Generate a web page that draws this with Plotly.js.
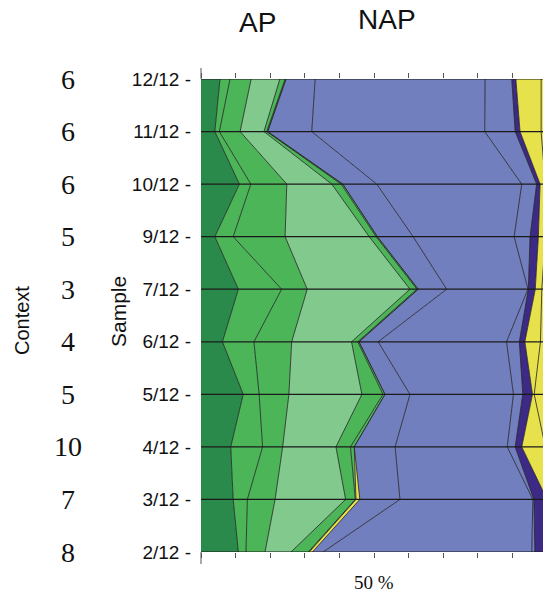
<!DOCTYPE html>
<html>
<head>
<meta charset="utf-8">
<script src="https://cdn.plot.ly/plotly-3.0.1.min.js"></script>
<style>
  html, body { margin: 0; padding: 0; background: #ffffff; }
  #chart { width: 543px; height: 593px; }
</style>
</head>
<body>
<div id="chart"></div>
<script>
// Samples from top (12/12) to bottom (2/12), with the context number of each
const samples = ["12/12", "11/12", "10/12", "9/12", "7/12", "6/12", "5/12", "4/12", "3/12", "2/12"];
const contexts = ["6", "6", "6", "5", "3", "4", "5", "10", "7", "8"];

// Pollen percentages per taxon group, one value per sample (same order as samples)
// Arboreal pollen (AP)
const apDarkGreen   = [5.5, 4.0, 11.1, 4.0, 10.8, 6.2, 12.2, 8.6, 9.3, 10.8];
const apGreenA      = [2.9, 1.3, 3.3, 5.3, 12.5, 9.1, 4.6, 9.2, 4.1, 2.2];
const apGreenB      = [6.1, 6.0, 10.4, 15.0, 7.4, 10.9, 8.6, 5.8, 8.0, 5.5];
const apLightGreen  = [8.3, 6.9, 13.0, 24.3, 29.7, 17.3, 21.1, 15.4, 20.4, 7.5];
const apGreenC      = [1.5, 0.8, 2.7, 2.0, 2.0, 1.8, 6.1, 4.2, 2.8, 5.0];
const apGreenD      = [0.3, 0.3, 0.5, 0.4, 0.4, 0.4, 0.6, 1.1, 0.2, 0.3];
const apYellow      = [0, 0, 0, 0, 0, 0, 0, 0, 1.1, 0.9];
// Non-arboreal pollen (NAP)
const napBlueA      = [8.4, 12.7, 9.8, 10.3, 8.2, 5.5, 7.2, 11.8, 11.6, 3.1];
const napBlueB      = [49.1, 50.0, 41.9, 29.2, 23.5, 37.1, 29.9, 32.4, 38.4, 60.3];
const napBlueC      = [7.7, 8.8, 4.3, 4.6, 0.1, 3.7, 2.7, 2.3, 0.3, 0.9];
const napPurple     = [1.2, 1.4, 1.0, 2.4, 2.0, 1.6, 2.8, 1.9, 3.8, 3.5];
const napYellowA    = [7.3, 6.1, 1.5, 2.0, 1.9, 4.5, 0.5, 6.8, 0, 0];
const napYellowB    = [1.7, 1.7, 0.5, 0.5, 1.5, 1.9, 3.7, 0.5, 0, 0];

const C_DARK   = "#2a8a4c";
const C_MID    = "#4cb558";
const C_LIGHT  = "#82c98e";
const C_BLUE   = "#727fbe";
const C_PURPLE = "#3d2a86";
const C_YELLOW = "#e7e24c";

const layers = [
  [apDarkGreen, C_DARK],
  [apGreenA, C_MID],
  [apGreenB, C_MID],
  [apLightGreen, C_LIGHT],
  [apGreenC, C_MID],
  [apGreenD, C_MID],
  [apYellow, C_YELLOW],
  [napBlueA, C_BLUE],
  [napBlueB, C_BLUE],
  [napBlueC, C_BLUE],
  [napPurple, C_PURPLE],
  [napYellowA, C_YELLOW],
  [napYellowB, C_YELLOW]
];

const rows = samples.map((s, i) => i);

const traces = layers.map(([vals, col]) => ({
  type: "scatter",
  mode: "lines",
  orientation: "h",
  stackgroup: "pollen",
  x: vals,
  y: rows,
  fillcolor: col,
  line: { color: "#1e1e1e", width: 0.8, shape: "linear" },
  hoverinfo: "skip",
  showlegend: false
}));

// Invisible trace so the top axis gets drawn
traces.push({
  type: "scatter", mode: "markers", x: [0], y: [0], xaxis: "x2",
  marker: { opacity: 0 }, hoverinfo: "skip", showlegend: false
});

const XMAX = 98.84;

const shapes = rows.map(i => ({
  type: "line", xref: "paper", yref: "y", x0: 0, x1: 1, y0: i, y1: i,
  line: { color: "#1a1a1a", width: 1.2 }, layer: "above"
}));
// Longer ticks at the zero line, above and below the plot
shapes.push({ type: "line", xref: "paper", yref: "paper", x0: 0, x1: 0, y0: 1, y1: 1 + 11 / 473,
  line: { color: "#555", width: 1 } });
shapes.push({ type: "line", xref: "paper", yref: "paper", x0: 0, x1: 0, y0: 0, y1: -12 / 473,
  line: { color: "#555", width: 1 } });

const annotations = [];
contexts.forEach((c, i) => annotations.push({
  xref: "paper", yref: "y", x: (68 - 201) / 342, y: i, text: c, showarrow: false,
  xanchor: "center", yanchor: "middle",
  font: { family: "Liberation Serif, DejaVu Serif, serif", size: 28, color: "#111" }
}));
annotations.push({
  xref: "paper", yref: "paper", x: (22 - 201) / 342, y: (552 - 321) / 473, text: "Context",
  textangle: -90, showarrow: false, xanchor: "center", yanchor: "middle",
  font: { family: "Liberation Sans, Arial, sans-serif", size: 20, color: "#111" }
});
annotations.push({
  xref: "paper", yref: "paper", x: (118 - 201) / 342, y: (552 - 312) / 473, text: "Sample",
  textangle: -90, showarrow: false, xanchor: "center", yanchor: "middle",
  font: { family: "Liberation Sans, Arial, sans-serif", size: 21, color: "#111" }
});
annotations.push({
  xref: "paper", yref: "paper", x: (257 - 201) / 342, y: 1 + (79 - 23) / 473, text: "AP",
  showarrow: false, xanchor: "center", yanchor: "middle",
  font: { family: "Liberation Sans Narrow, Arial Narrow, Liberation Sans, sans-serif", size: 28, color: "#111" }
});
annotations.push({
  xref: "paper", yref: "paper", x: (387 - 201) / 342, y: 1 + (79 - 20) / 473, text: "NAP",
  showarrow: false, xanchor: "center", yanchor: "middle",
  font: { family: "Liberation Sans Narrow, Arial Narrow, Liberation Sans, sans-serif", size: 28, color: "#111" }
});
annotations.push({
  xref: "x", yref: "paper", x: 50, y: -(582 - 552) / 473, text: "50 %",
  showarrow: false, xanchor: "center", yanchor: "middle",
  font: { family: "Liberation Serif, DejaVu Serif, serif", size: 19, color: "#111" }
});

const layout = {
  width: 543,
  height: 593,
  margin: { l: 201, r: 0, t: 79, b: 41, pad: 0 },
  paper_bgcolor: "#ffffff",
  plot_bgcolor: "#ffffff",
  showlegend: false,
  xaxis: {
    range: [0, XMAX], dtick: 10, tick0: 0, ticks: "outside", ticklen: 5,
    tickcolor: "#555", tickwidth: 1, showticklabels: false, showgrid: false,
    zeroline: false, showline: false, fixedrange: true
  },
  xaxis2: {
    overlaying: "x", side: "top", range: [0, XMAX], dtick: 10, tick0: 0,
    ticks: "outside", ticklen: 5, tickcolor: "#555", tickwidth: 1,
    showticklabels: false, showgrid: false, zeroline: false, showline: false
  },
  yaxis: {
    range: [samples.length - 1, 0],
    tickvals: rows,
    ticktext: samples.map(s => s + " -"),
    ticks: "", ticklabelstandoff: 9,
    tickfont: { family: "Liberation Sans, Arial, sans-serif", size: 19, color: "#111" },
    showgrid: false, zeroline: false, showline: false
  },
  shapes: shapes,
  annotations: annotations
};

Plotly.newPlot("chart", traces, layout, { displayModeBar: false, staticPlot: true });
</script>
</body>
</html>
